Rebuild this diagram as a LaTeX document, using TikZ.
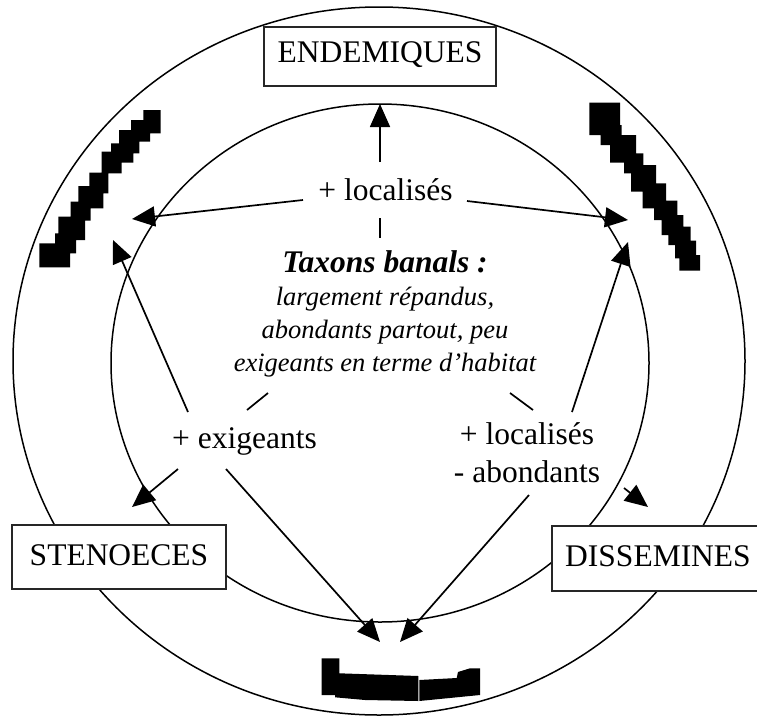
\documentclass[tikz,border=0pt]{standalone}
\usepackage{fontspec}
\setmainfont{Liberation Serif}
\usetikzlibrary{arrows.meta}
\begin{document}
\begin{tikzpicture}[x=1pt,y=-1pt,
  arr/.style={line width=1.7pt,-{Triangle[length=23pt,width=20pt]}},
  plainline/.style={line width=1.7pt},
  ring/.style={line width=1.5pt},
  boxnode/.style={draw=black!85,line width=1.1pt,fill=white,inner sep=0pt,font=\fontsize{31.5}{36}\selectfont},
  lbl/.style={inner sep=0pt,font=\fontsize{31.5}{36}\selectfont},
  blob/.style={fill=black}]
\useasboundingbox (0,0) rectangle (757,718);
\fill[white] (0,0) rectangle (757,718);
% rings
\draw[ring] (379,361) ellipse [x radius=366, y radius=354];
\draw[ring] (380,363) ellipse [x radius=269, y radius=259];
% boxes
\node[boxnode,minimum width=232,minimum height=59,text height=21,text depth=10] (endem) at (380,56.5) {ENDEMIQUES};
\node[boxnode,minimum width=214,minimum height=64,text height=21,text depth=5] (steno) at (119,557) {STENOECES};
\node[boxnode,minimum width=212,minimum height=65,text height=21,text depth=6] (dissem) at (658,558.5) {DISSEMINES};
% labels
\node[lbl,anchor=base] (loc) at (385.5,200) {+ localisés};
\node[lbl,anchor=base] (exig) at (244.5,448) {+ exigeants};
\node[lbl,anchor=north,align=center,font=\fontsize{31.5}{38}\selectfont] (locab) at (527,422.5) {+ localisés\\- abondants};
\node[lbl,anchor=north,align=center,font=\fontsize{26.5}{33}\selectfont\itshape] (taxons) at (385,250.7)
  {{\fontsize{31.5}{33}\selectfont\bfseries Taxons banals :}\\largement répandus,\\abondants partout, peu\\exigeants en terme d’habitat};
% connector end points
\coordinate (sU) at (380,162);   \coordinate (tU) at (380,104);
\coordinate (sL) at (303,200);   \coordinate (tL) at (132,219);
\coordinate (sR) at (467,201);   \coordinate (tR) at (628,220);
\coordinate (dA) at (380,218);   \coordinate (dB) at (380,238);
\coordinate (xA) at (268,393);   \coordinate (xB) at (247,410);
\coordinate (yA) at (510,393);   \coordinate (yB) at (533,410);
\coordinate (e1) at (188,412);   \coordinate (e1t) at (113,240);
\coordinate (e2) at (178,469);   \coordinate (e2t) at (132,507);
\coordinate (e3) at (226,469);   \coordinate (bL) at (380,642);
\coordinate (l1) at (572,412);   \coordinate (l1t) at (628,242);
\coordinate (l2) at (624,488);   \coordinate (l2t) at (648,507);
\coordinate (l3) at (529,495);   \coordinate (bR) at (400,642);
% connectors
\draw[arr] (sU) -- (tU);
\draw[arr] (sL) -- (tL);
\draw[arr] (sR) -- (tR);
\draw[plainline] (dA) -- (dB);
\draw[plainline] (xA) -- (xB);
\draw[plainline] (yA) -- (yB);
\draw[arr] (e1) -- (e1t);
\draw[arr] (e2) -- (e2t);
\draw[arr] (e3) -- (bL);
\draw[arr] (l1) -- (l1t);
\draw[arr] (l2) -- (l2t);
\draw[arr] (l3) -- (bR);
% redacted blobs
\fill[blob] (143.3,110) -- (160.7,110) -- (160.7,133.3) -- (150,133.3) -- (150,141.7) -- (139.3,141.7) -- (139.3,153.3) -- (133.3,153.3) -- (133.3,162.7) -- (121.7,162.7) -- (121.7,173.3) -- (108.3,173.3) -- (108.3,193.3) -- (103.3,193.3) -- (103.3,208.3) -- (90.7,208.3) -- (90.7,220.7) -- (85,220.7) -- (85,240) -- (76,240) -- (76,253.3) -- (70,253.3) -- (70,267.3) -- (39.3,267.3) -- (39.3,243.3) -- (55,243.3) -- (55,233.3) -- (58.3,233.3) -- (58.3,216.7) -- (70.7,216.7) -- (70.7,201.7) -- (78.3,201.7) -- (78.3,186) -- (89.3,186) -- (89.3,172.7) -- (101.7,172.7) -- (101.7,151.7) -- (111,151.7) -- (111,143.3) -- (119,143.3) -- (119,130) -- (131,130) -- (131,120) -- (143.3,120) -- cycle;
\fill[blob] (589.3,102.7) -- (620,102.7) -- (620,125) -- (621.7,125) -- (621.7,135) -- (636,135) -- (636,153.3) -- (643.3,153.3) -- (643.3,165) -- (656,165) -- (656,183.3) -- (666,183.3) -- (666,200.7) -- (677.3,200.7) -- (677.3,215) -- (683.3,215) -- (683.3,226.7) -- (690.7,226.7) -- (690.7,240.7) -- (696,240.7) -- (696,255) -- (700,255) -- (700,270.7) -- (679.3,270.7) -- (679.3,258.3) -- (675,258.3) -- (675,245) -- (668.3,245) -- (668.3,235) -- (661.7,235) -- (661.7,220) -- (654,220) -- (654,208.3) -- (642.7,208.3) -- (642.7,191.7) -- (631,191.7) -- (631,173.3) -- (624,173.3) -- (624,162.7) -- (610,162.7) -- (610,145) -- (600.7,145) -- (600.7,135) -- (589.3,135) -- cycle;
\fill[blob] (321.7,658.3) -- (339.3,658.3) -- (339.3,673.3) -- (418.3,676) -- (418.3,701) -- (365,700) -- (335,697.3) -- (335,695) -- (321.7,695) -- cycle;
\fill[blob] (419.3,680) -- (456.7,678) -- (458,672) -- (470,668.3) -- (480,668.3) -- (480,695) -- (419.3,701) -- cycle;
\end{tikzpicture}
\end{document}
